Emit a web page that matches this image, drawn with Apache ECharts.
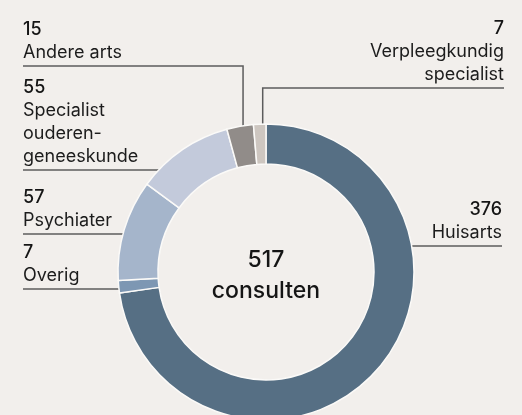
<!DOCTYPE html>
<html>
<head>
<meta charset="utf-8">
<script src="https://cdn.jsdelivr.net/npm/echarts@6/dist/echarts.min.js"></script>
<style>
  html, body { margin: 0; padding: 0; background: #f2efec; }
  #chart { width: 522px; height: 415px; }
</style>
</head>
<body>
<div id="chart"></div>
<script>
// data (clockwise from 12 o'clock)
const categories = ['Huisarts', 'Overig', 'Psychiater', 'Specialist ouderengeneeskunde', 'Andere arts', 'Verpleegkundig specialist']
const labelTexts = ['Huisarts', 'Overig', 'Psychiater', 'Specialist\nouderen-\ngeneeskunde', 'Andere arts', 'Verpleegkundig\nspecialist']
const values = [376, 7, 57, 55, 15, 7]
const centerCaption = 'consulten'

const colors = ['#566f84', '#7d97b3', '#a5b5cb', '#c3cadb', '#918c89', '#cdc6c0']

// ring geometry (px)
const CX = 266, CY = 272, R_IN = 108, R_OUT = 148

// where each label sits: y of the underline, which side, outer end of the line
// 'up' labels get an elbow line going straight up from the slice
const labelSpots = [
  { lineY: 246, side: 'right', end: 502 },
  { lineY: 289, side: 'left', end: 23 },
  { lineY: 234, side: 'left', end: 23 },
  { lineY: 170, side: 'left', end: 23 },
  { lineY: 66, side: 'left', end: 23, up: true },
  { lineY: 88, side: 'right', end: 504, up: true },
]

const total = values.reduce((a, b) => a + b, 0)

// mid angle of each slice (radians, clockwise from top)
const midAngles = []
let acc = 0
values.forEach((v) => {
  midAngles.push(((acc + v / 2) / total) * Math.PI * 2)
  acc += v
})

const chart = echarts.init(document.getElementById('chart'), null, { renderer: 'canvas' })

const fontFamily = 'Inter, "Noto Sans", sans-serif'

chart.setOption({
  backgroundColor: '#f2efec',
  animation: false,
  graphic: [{
    type: 'text',
    style: {
      x: CX,
      y: CY + 4,
      text: total + '\n' + centerCaption,
      align: 'center',
      verticalAlign: 'middle',
      fontFamily,
      fontSize: 23,
      fontWeight: 500,
      lineHeight: 31,
      fill: '#151515',
    },
  }],
  series: [{
    type: 'pie',
    center: [CX, CY],
    radius: [R_IN, R_OUT],
    startAngle: 90,
    clockwise: true,
    avoidLabelOverlap: false,
    itemStyle: { borderColor: '#fbfaf8', borderWidth: 1.5 },
    emphasis: { disabled: true },
    data: categories.map((name, i) => ({
      name,
      value: values[i],
      itemStyle: { color: colors[i] },
    })),
    label: {
      show: true,
      position: 'outside',
      formatter: (p) => {
        const lines = labelTexts[p.dataIndex].split('\n').map((t) => `{n|${t}}`)
        return `{v|${p.value}}\n` + lines.join('\n')
      },
      rich: {
        v: { fontFamily, fontSize: 18, fontWeight: 500, color: '#151515', lineHeight: 23 },
        n: { fontFamily, fontSize: 18, fontWeight: 400, color: '#1c1c1c', lineHeight: 23 },
      },
    },
    labelLine: {
      show: true,
      length: 10,
      length2: 10,
      lineStyle: { color: '#5c5c5c', width: 1.5 },
    },
    labelLayout: (params) => {
      const i = params.dataIndex
      const s = labelSpots[i]
      const left = s.side === 'left'
      let pts
      if (s.up) {
        const a = midAngles[i]
        const px = CX + R_OUT * Math.sin(a) + 3
        const py = CY - R_OUT * Math.cos(a)
        pts = [[px, py], [px, s.lineY], [s.end, s.lineY]]
      } else {
        const dy = s.lineY - CY
        const dx = Math.sqrt(R_OUT * R_OUT - dy * dy)
        const px = left ? CX - dx : CX + dx
        pts = [[px, s.lineY], [s.end, s.lineY]]
      }
      return {
        x: s.end,
        y: s.lineY - 2,
        align: left ? 'left' : 'right',
        verticalAlign: 'bottom',
        labelLinePoints: pts,
      }
    },
  }],
})
</script>
</body>
</html>
